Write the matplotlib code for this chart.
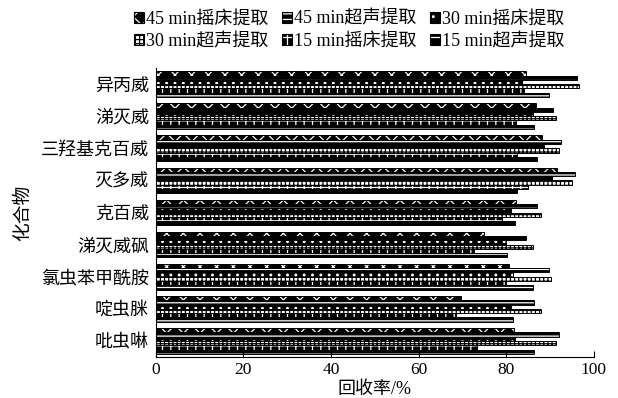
import matplotlib

matplotlib.use("Agg")
import matplotlib.pyplot as plt
from matplotlib.patches import Patch
import numpy as np

plt.rcParams["font.family"] = ["Liberation Serif", "Noto Sans CJK SC"]
plt.rcParams["hatch.linewidth"] = 0.9

compounds = ["异丙威", "涕灭威", "三羟基克百威", "灭多威", "克百威",
             "涕灭威砜", "氯虫苯甲酰胺", "啶虫脒", "吡虫啉"]
series = ["45 min摇床提取", "45 min超声提取", "30 min摇床提取",
          "30 min超声提取", "15 min摇床提取", "15 min超声提取"]

# recovery (%) per compound, one list per series
shake45 = [84.5, 86.7, 88.1, 91.6, 82.2, 74.9, 80.6, 69.6, 81.8]
sonic45 = [96.1, 90.7, 92.6, 95.6, 87.1, 84.4, 89.7, 86.3, 92.0]
shake30 = [83.6, 86.0, 88.5, 90.5, 81.0, 80.0, 81.5, 81.0, 82.0]
sonic30 = [96.6, 91.3, 92.0, 95.0, 87.9, 86.0, 90.1, 87.9, 91.3]
shake15 = [84.0, 82.2, 82.5, 85.0, 79.1, 72.7, 80.0, 68.5, 73.4]
sonic15 = [89.7, 86.3, 87.0, 82.5, 81.9, 80.2, 86.0, 81.6, 86.3]

values = [shake45, sonic45, shake30, sonic30, shake15, sonic15]
hatches = ["xx", "---", "..", "++++", "++", "--"]
faces = ["black", "black", "black", "white", "black", "black"]
hcols = ["white", "white", "white", "black", "white", "white"]

fig = plt.figure(figsize=(6.18, 3.98), dpi=100)
ax = fig.add_axes([0.252, 0.103, 0.709, 0.726])

n = len(compounds)
y = np.arange(n)[::-1]
h = 0.8 / len(series)
handles = []
for i, vals in enumerate(values):
    off = 0.4 - h * (i + 0.5)
    ax.barh(y + off, vals, height=h, color=faces[i], edgecolor=hcols[i],
            hatch=hatches[i], linewidth=0)
    ax.barh(y + off, vals, height=h, fill=False, edgecolor="black",
            linewidth=0.7)
    handles.append((Patch(facecolor=faces[i], edgecolor=hcols[i],
                          hatch=hatches[i], linewidth=0),
                    Patch(fill=False, edgecolor="black", linewidth=0.8)))

ax.set_yticks(y)
ax.set_yticklabels(compounds, fontsize=13)
ax.set_ylim(-0.5, n - 0.5)
ax.set_xlim(0, 100)
ax.set_xticks([0, 20, 40, 60, 80, 100])
ax.tick_params(axis="x", direction="in", labelsize=12.5, length=4)
ax.tick_params(axis="y", direction="in", length=0, pad=5)
ax.spines["top"].set_visible(False)
ax.spines["right"].set_visible(False)
ax.set_xlabel("回收率/%", fontsize=13, labelpad=2)
ax.set_ylabel("化合物", fontsize=13.5, labelpad=6)

# legend is filled row by row in the original
order = [0, 3, 1, 4, 2, 5]
fig.legend([handles[k] for k in order], [series[k] for k in order],
           loc="upper center", bbox_to_anchor=(0.565, 1.005), ncol=3,
           fontsize=13, frameon=False, handlelength=0.55, handleheight=0.55,
           handletextpad=0.1, columnspacing=0.75, labelspacing=0.3,
           borderaxespad=0.3)

fig.savefig("out.png", dpi=100)
